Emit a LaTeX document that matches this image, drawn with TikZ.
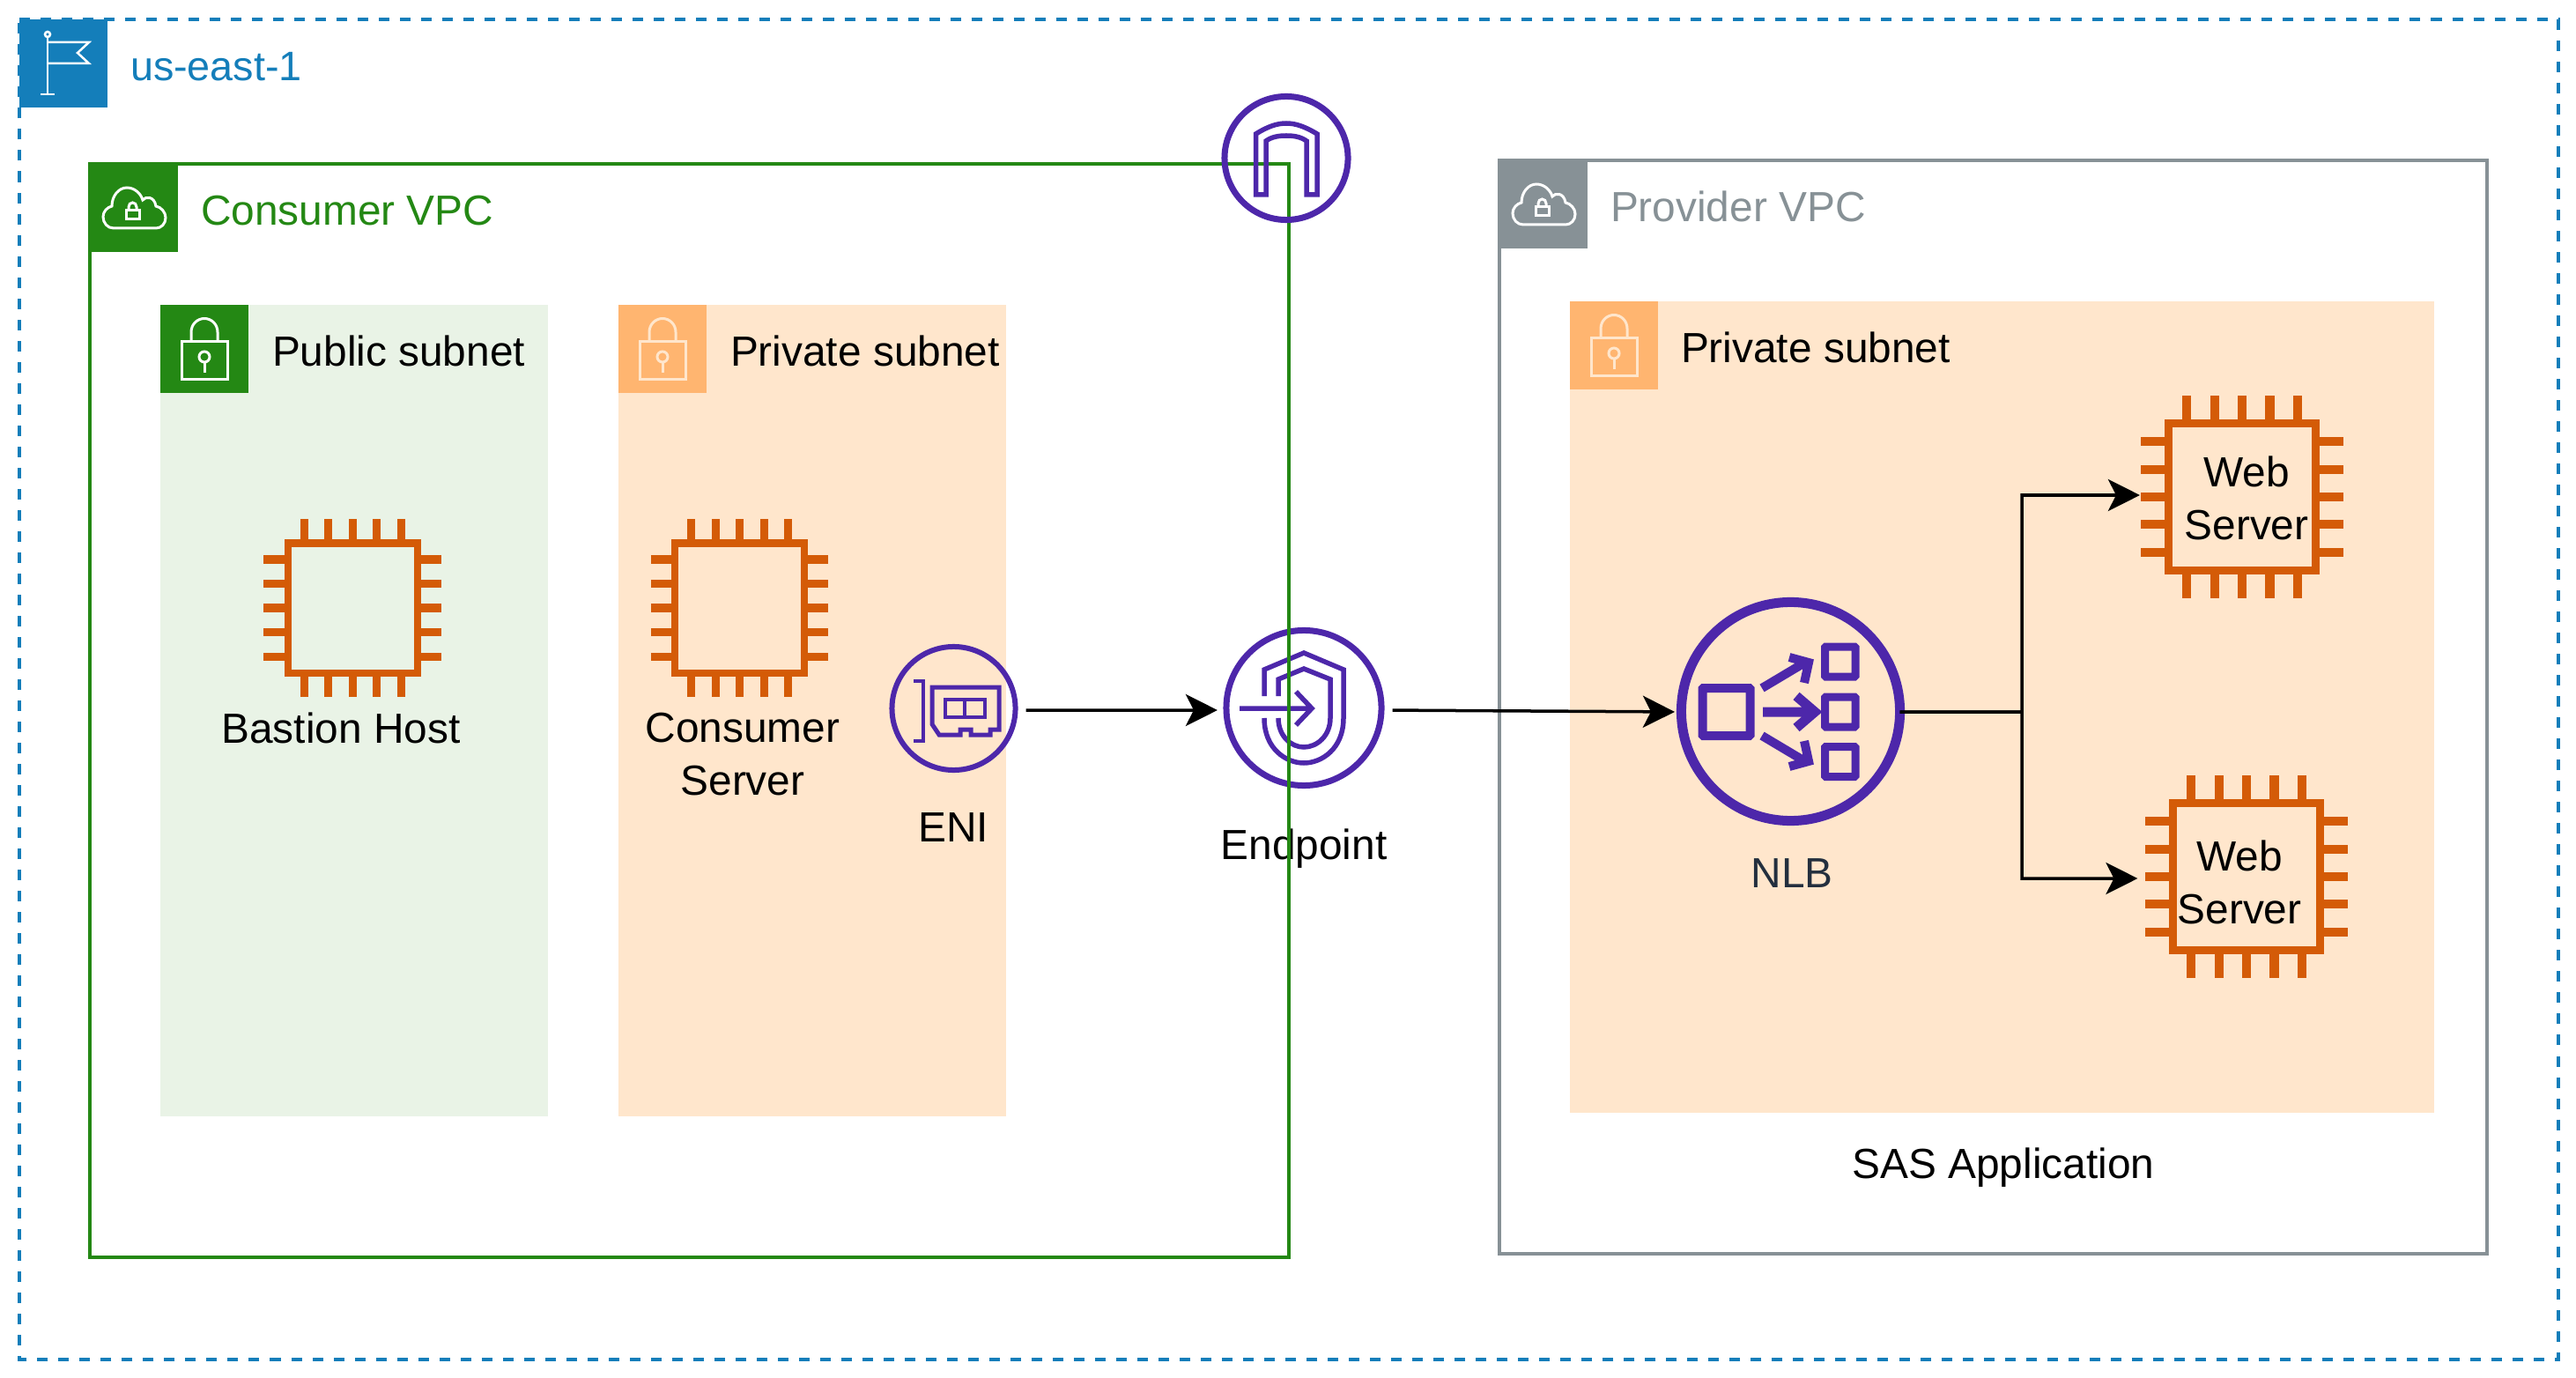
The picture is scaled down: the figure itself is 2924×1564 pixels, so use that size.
\documentclass[tikz,border=0pt]{standalone}
\usepackage{fontspec}
\setmainfont{Liberation Sans}
\usepackage{xcolor}
\usetikzlibrary{arrows.meta}
\definecolor{regionblue}{HTML}{147EBA}
\definecolor{vpcgreen}{HTML}{248814}
\definecolor{vpcgrey}{HTML}{879196}
\definecolor{publicfill}{HTML}{E9F3E6}
\definecolor{privatefill}{HTML}{FFE6CC}
\definecolor{privatehead}{HTML}{FFB570}
\definecolor{chiporange}{HTML}{D45B07}
\definecolor{netpurple}{HTML}{4D27AA}
\definecolor{nlbtext}{HTML}{232F3E}
\tikzset{
    every node/.style = {inner sep=0pt, outer sep=0pt, font=\fontsize{13.6pt}{17.07pt}\selectfont},
    region-box/.style = {minimum width=28.8cm, minimum height=15.2cm, anchor=north west},
    region-line/.style = {draw=regionblue, line width=.04cm, dash pattern=on .12cm off .12cm},
    vpc-box/.style = {line width=.04cm, minimum height=12.4cm, anchor=north west},
    subnet-box/.style = {minimum width=#1, minimum height=9.2cm, anchor=north west},
    head-box/.style = {minimum size=1cm, anchor=north west},
    chip-pad/.style = {minimum size=#1},
    ring/.style = {draw=netpurple, circle, line width=.06cm},
    title/.style = {anchor=base west},
    caption/.style = {anchor=base},
    two-lines/.style = {align=center},
    flow/.style = {-{Stealth[length=.36cm,width=.36cm,inset=.09cm]}, line width=.035cm},
    flag-icon/.pic = {
        \draw[white, line width=.025cm] (32,17) circle[radius=.03cm];
        \draw[white, line width=.025cm] (32,20) -- (32,85) (24,85) -- (40,85);
        \draw[white, line width=.025cm] (32,26) -- (79,26) -- (66,38) -- (79,50) -- (32,50);
    },
    cloud-icon/.pic = {
        \draw[white, line width=.03cm] (29,75) .. controls (22,75) and (17,69) .. (17,62) .. controls (17,56) and (22,51) .. (27,50) .. controls (27,38) and (35,29) .. (44,29) .. controls (53,29) and (60,36) .. (62,43) .. controls (65,39) and (75,38) .. (77,50) .. controls (83,51) and (88,57) .. (88,63) .. controls (88,70) and (83,75) .. (77,75) -- cycle;
        \draw[white, line width=.03cm] (43,55) rectangle (58,65);
        \draw[white, line width=.03cm] (46,55) -- (46,51) .. controls (46,48) and (48,46) .. (50.5,46) .. controls (53,46) and (55,48) .. (55,51) -- (55,55);
    },
    lock-icon/.pic = {
        \draw[line width=.03cm] (24,41.5) rectangle (76,84.5);
        \draw[line width=.03cm] (35,41) -- (35,31) .. controls (35,22) and (42,15.5) .. (50,15.5) .. controls (58,15.5) and (65,22) .. (65,31) -- (65,41);
        \draw[line width=.03cm] (50,59) circle[radius=.06cm];
        \draw[line width=.03cm] (50,65) -- (50,77);
    },
    pics/chip-icon/.style = {code={
        \begin{scope}[scale=#1]
        \draw[chiporange, line width=#1*.08cm] (-73.5,-73.5) rectangle (73.5,73.5);
        \foreach \p in {-55,-27.5,0,27.5,55} {
            \draw[chiporange, line width=#1*.09cm] (\p,-100.7) -- (\p,-77) (\p,77) -- (\p,100.7);
            \draw[chiporange, line width=#1*.09cm] (-100.7,\p) -- (-77,\p) (77,\p) -- (100.7,\p);
        }
        \end{scope}
    }},
}

\begin{document}
\begin{tikzpicture}[x=.01cm, y=-.01cm]
\useasboundingbox (0,0) rectangle (2924,1564);
\fill[white] (0,0) rectangle (2924,1564);

% region
\node[region-box] (region) at (22,22) {};
\draw[region-line] (region.north west) -- (region.north east) -- (region.south east) -- (region.south west) -- cycle;
\node[head-box, fill=regionblue] (regionHead) at (22,22) {};
\pic at (regionHead.north west) {flag-icon};
\node[title, text=regionblue, font=\fontsize{13.3pt}{17pt}\selectfont] (regionTitle) at (148,92) {us-east-1};

% endpoint goes under the green line
\node[ring, line width=.07cm, minimum size=1.76cm] (endpoint) at (1480,803.5) {};
\draw[netpurple, line width=.055cm] (1435,790) -- (1435,760) -- (1480,741) -- (1525,760) -- (1525,815) .. controls (1525,850) and (1500,866) .. (1480,866) .. controls (1460,866) and (1435,850) .. (1435,815);
\draw[netpurple, line width=.055cm] (1451,790) -- (1451,771) -- (1480,759) -- (1510,771) -- (1510,815) .. controls (1510,835) and (1495,848) .. (1480,848) .. controls (1465,848) and (1451,835) .. (1451,815);
\draw[netpurple, line width=.055cm] (1407,804) -- (1488,804) (1471,785) -- (1489,804) -- (1471,823);
\node[caption] (endpointLabel) at (1480,975) {Endpoint};

% consumer side
\node[vpc-box, draw=vpcgreen, minimum width=13.6cm] (consumer) at (102,186) {};
\node[head-box, fill=vpcgreen, minimum size=1.02cm] (consumerHead) at (100,184) {};
\pic at (consumerHead.north west) {cloud-icon};
\node[title, text=vpcgreen] (consumerTitle) at (228,256) {Consumer VPC};

\node[subnet-box=4.4cm, fill=publicfill] (public) at (182,346) {};
\node[head-box, fill=vpcgreen] (publicHead) at (182,346) {};
\pic[white] at (publicHead.north west) {lock-icon};
\node[title] (publicTitle) at (309,416) {Public subnet};

\node[subnet-box=4.4cm, fill=privatefill] (private) at (702,346) {};
\node[head-box, fill=privatehead] (privateHead) at (702,346) {};
\pic[privatefill] at (privateHead.north west) {lock-icon};
\node[title] (privateTitle) at (829,416) {Private subnet};

\node[chip-pad=2cm] (bastion) at (400,690) {};
\pic at (bastion) {chip-icon=1};
\node[caption] (bastionLabel) at (387,843) {Bastion Host};

\node[chip-pad=2cm] (server) at (839.5,690) {};
\pic at (server) {chip-icon=1};
\node[two-lines] (serverLabel) at (843,856) {Consumer\\Server};

\node[ring, minimum size=1.4cm] (eni) at (1082.5,804) {};
\draw[netpurple, line width=.04cm] (1037,773) -- (1048,773) -- (1048,841) -- (1037,841);
\draw[netpurple, line width=.05cm] (1058,780) -- (1134,780) -- (1134,828) -- (1124,828) -- (1124,834) -- (1102,834) -- (1102,828) -- (1090,828) -- (1090,834) -- (1066,834) -- (1058,822) -- cycle;
\draw[netpurple, line width=.045cm] (1073,794) rectangle (1118,814) (1095,794) -- (1095,814);
\node[caption] (eniLabel) at (1082,955) {ENI};

% gateway sits on the corner
\node[ring, line width=.07cm, minimum size=1.4cm] (gateway) at (1460,179.5) {};
\draw[netpurple, line width=.055cm] (1425.5,221) -- (1425.5,152) .. controls (1440,143) and (1450,140) .. (1460,140) .. controls (1470,140) and (1480,143) .. (1495,152) -- (1495,221) -- (1483,221) -- (1483,160) .. controls (1476,155) and (1468,154) .. (1460,154) .. controls (1452,154) and (1444,155) .. (1437,160) -- (1437,221) -- cycle;

% provider side
\node[vpc-box, draw=vpcgrey, minimum width=11.2cm] (provider) at (1702,182) {};
\node[head-box, fill=vpcgrey, minimum size=1.02cm] (providerHead) at (1700,180) {};
\pic at (providerHead.north west) {cloud-icon};
\node[title, text=vpcgrey] (providerTitle) at (1828,252) {Provider VPC};

\node[subnet-box=9.8cm, fill=privatefill] (subnet) at (1782,342) {};
\node[head-box, fill=privatehead] (subnetHead) at (1782,342) {};
\pic[privatefill] at (subnetHead.north west) {lock-icon};
\node[title] (subnetTitle) at (1908,412) {Private subnet};

\node[ring, line width=.11cm, minimum size=2.48cm] (nlb) at (2032.5,807.5) {};
\draw[netpurple, line width=.1cm, rounded corners=.01cm] (1932.5,781) rectangle (1986.5,835);
\foreach \y in {751,808,864.5} {
    \draw[netpurple, line width=.09cm, rounded corners=.01cm] (2071.5,\y-17) rectangle (2106,\y+17);
}
\draw[netpurple, line width=.11cm] (2001,808) -- (2060,808) (2039,790) -- (2060,808) -- (2039,826);
\draw[netpurple, line width=.1cm] (2000,781) -- (2052,750) (2031,746) -- (2053,752) -- (2048,775);
\draw[netpurple, line width=.1cm] (2000,835) -- (2052,866) (2031,870) -- (2053,864) -- (2048,841);
\node[caption, text=nlbtext] (nlbLabel) at (2034,1007) {NLB};

\node[chip-pad=2.29cm] (webTop) at (2545,564) {};
\pic at (webTop) {chip-icon=1.14};
\node[two-lines] (webTopLabel) at (2550,565) {Web\\Server};

\node[chip-pad=2.29cm] (webBottom) at (2550,995) {};
\pic at (webBottom) {chip-icon=1.14};
\node[two-lines] (webBottomLabel) at (2542,1001) {Web\\Server};

\node[caption] (sasLabel) at (2274,1337) {SAS Application};

% connectors
\coordinate (split) at (2295,808);
\draw[flow, shorten <=.12cm, shorten >=.1cm] ([yshift=-.02cm]eni.east) -- ([yshift=-.025cm]endpoint.west);
\draw[flow, shorten <=.125cm, shorten >=.075cm] ([yshift=-.025cm]endpoint.east) -- ([yshift=-.005cm]nlb.west);
\draw[flow, shorten >=.015cm] ([yshift=-.005cm]nlb.east) -- (split) |- ([yshift=.02cm]webTop.west);
\draw[flow, shorten >=.09cm] ([yshift=-.005cm]nlb.east) -- (split) |- ([yshift=-.02cm]webBottom.west);
\end{tikzpicture}
\end{document}
